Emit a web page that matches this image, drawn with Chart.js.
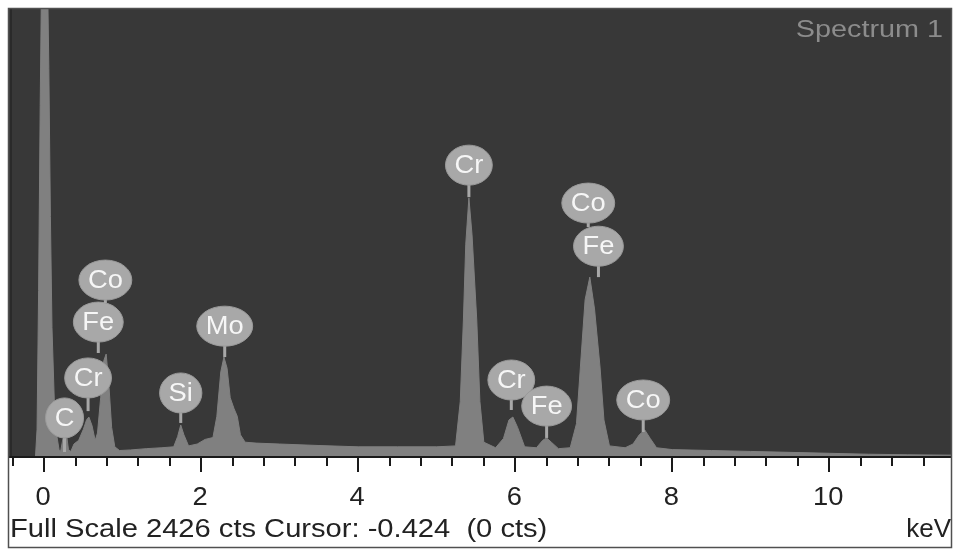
<!DOCTYPE html>
<html>
<head>
<meta charset="utf-8">
<script src="https://cdn.jsdelivr.net/npm/chart.js@4.4.1/dist/chart.umd.min.js"></script>
<style>
    html, body { margin: 0; padding: 0; background: #ffffff; }
    #wrap { width: 954px; height: 549px; position: relative; }
</style>
</head>
<body>
<div id="wrap"><canvas id="spectrumChart"></canvas></div>
<script>
// Espectro EDS (keV, contagens)
const energy = [
    -0.46, -0.11, -0.09, -0.07, -0.05, -0.03, 0.04, 0.06, 0.08, 0.10,
    0.13, 0.16, 0.19, 0.21, 0.24, 0.28, 0.31, 0.34, 0.38, 0.44,
    0.50, 0.54, 0.57, 0.61, 0.65, 0.68, 0.72, 0.76, 0.79, 0.82,
    0.86, 0.90, 0.96, 1.10, 1.30, 1.50, 1.65, 1.70, 1.74, 1.78,
    1.84, 1.95, 2.05, 2.15, 2.20, 2.25, 2.29, 2.33, 2.37, 2.42,
    2.46, 2.50, 2.56, 2.70, 3.00, 3.50, 4.00, 4.50, 5.00, 5.24,
    5.30, 5.34, 5.37, 5.41, 5.45, 5.51, 5.55, 5.60, 5.75, 5.85,
    5.92, 5.97, 6.03, 6.12, 6.27, 6.35, 6.40, 6.46, 6.55, 6.70,
    6.78, 6.83, 6.89, 6.95, 7.01, 7.08, 7.13, 7.20, 7.40, 7.50,
    7.58, 7.65, 7.72, 7.80, 8.00, 8.50, 9.00, 9.50, 10.0, 10.5,
    11.0, 11.55
];
const counts = [
    0, 0, 150, 900, 1900, 2700, 2700, 2100, 1300, 700,
    300, 120, 40, 30, 100, 140, 40, 30, 70, 90,
    150, 200, 216, 170, 90, 130, 320, 520, 556, 420,
    160, 55, 35, 38, 45, 50, 55, 110, 173, 120,
    60, 70, 95, 105, 220, 460, 540, 480, 320, 260,
    220, 120, 80, 75, 70, 62, 55, 55, 55, 60,
    300, 740, 1150, 1400, 1200, 740, 300, 80, 50, 100,
    200, 216, 160, 55, 50, 90, 103, 80, 45, 50,
    180, 486, 850, 972, 800, 486, 200, 60, 50, 70,
    120, 146, 100, 50, 40, 35, 30, 25, 20, 15,
    12, 10
];

// Rótulos dos elementos
const labelText   = ['C', 'Cr', 'Fe', 'Co', 'Si', 'Mo', 'Cr', 'Cr', 'Fe', 'Co', 'Fe', 'Co'];
const labelEnergy = [0.26, 0.56, 0.69, 0.78, 1.74, 2.30, 5.41, 5.95, 6.40, 6.93, 7.06, 7.63];
const labelCounts = [211, 427, 729, 956, 346, 707, 1577, 416, 275, 1372, 1139, 308];
const stemCounts  = [27, 248, 562, 832, 184, 540, 1404, 254, 103, 1242, 972, 135];

// Eixo
const tickLabels = ['0', '2', '4', '6', '8', '10'];
const majorTicks = [0, 2, 4, 6, 8, 10];
const minorStep = 0.2;
const xMin = -0.46;
const xMax = 11.55;
const fullScale = 2426;
const cursorKeV = -0.424;
const cursorCts = 0;

const points = energy.map((e, i) => ({ x: e, y: counts[i] }));

function stretchText(ctx, text, x, y, align, sx) {
    const w = ctx.measureText(text).width * sx;
    let left = x;
    if (align === 'right') left = x - w;
    if (align === 'center') left = x - w / 2;
    ctx.save();
    ctx.translate(left, y);
    ctx.scale(sx, 1);
    ctx.textAlign = 'left';
    ctx.fillText(text, 0, 0);
    ctx.restore();
}

const edsPlugin = {
    id: 'eds',
    beforeDraw(chart) {
        const { ctx, chartArea: a } = chart;
        ctx.save();
        ctx.fillStyle = '#ffffff';
        ctx.fillRect(0, 0, chart.width, chart.height);
        ctx.fillStyle = '#383838';
        ctx.fillRect(a.left, a.top, a.right - a.left, a.bottom - a.top);
        ctx.fillStyle = '#2a2a2a';
        ctx.fillRect(a.left + 2, a.top, 2, a.bottom - a.top);
        ctx.restore();
    },
    afterDraw(chart) {
        const { ctx, chartArea: a } = chart;
        const xs = chart.scales.x;
        const ys = chart.scales.y;
        ctx.save();

        // rótulos dos picos
        ctx.font = '26px "Liberation Sans", Arial, sans-serif';
        ctx.textBaseline = 'middle';
        labelText.forEach((t, i) => {
            const px = xs.getPixelForValue(labelEnergy[i]);
            const py = ys.getPixelForValue(labelCounts[i]);
            const sy = ys.getPixelForValue(stemCounts[i]);
            const tw = ctx.measureText(t).width * 1.05;
            const w = Math.max(38, tw + 18);
            const h = 40;
            ctx.fillStyle = '#a8a8a8';
            ctx.fillRect(px - 1.5, py, 3, sy - py);
            ctx.beginPath();
            ctx.ellipse(px, py, w / 2, h / 2, 0, 0, Math.PI * 2);
            ctx.fill();
            ctx.strokeStyle = '#9a9a9a';
            ctx.lineWidth = 1;
            ctx.stroke();
            ctx.fillStyle = '#f6f6f6';
            stretchText(ctx, t, px, py + 1, 'center', 1.05);
        });

        // "Spectrum 1"
        ctx.fillStyle = '#8c8c8c';
        ctx.font = '24px "Liberation Sans", Arial, sans-serif';
        ctx.textBaseline = 'alphabetic';
        stretchText(ctx, 'Spectrum 1', 943, 37, 'right', 1.2);

        // linha do eixo e marcas
        ctx.fillStyle = '#1a1a1a';
        ctx.fillRect(a.left, a.bottom - 1, a.right - a.left, 2);
        xs.ticks.forEach(tk => {
            const px = Math.round(xs.getPixelForValue(tk.value));
            const major = majorTicks.some(m => Math.abs(m - tk.value) < 1e-6);
            ctx.fillRect(px - 1, a.bottom, 2, major ? 15 : 9);
        });

        // rótulos do eixo
        ctx.font = '26px "Liberation Sans", Arial, sans-serif';
        ctx.fillStyle = '#222222';
        majorTicks.forEach((m, i) => {
            stretchText(ctx, tickLabels[i], xs.getPixelForValue(m) - 1, 505, 'center', 1.05);
        });

        // texto inferior
        const info = 'Full Scale ' + fullScale + ' cts Cursor: ' + cursorKeV.toFixed(3) + '  (' + cursorCts + ' cts)';
        stretchText(ctx, info, 10, 537, 'left', 1.12);
        stretchText(ctx, 'keV', 951, 537, 'right', 1.0);

        // moldura
        ctx.strokeStyle = '#505050';
        ctx.lineWidth = 1.5;
        ctx.strokeRect(a.left + 0.5, a.top + 0.5, a.right - a.left, 547 - a.top);
        ctx.restore();
    }
};

const ctx = document.getElementById('spectrumChart').getContext('2d');
new Chart(ctx, {
    type: 'line',
    data: {
        datasets: [{
            data: points,
            fill: 'origin',
            backgroundColor: '#808080',
            borderColor: '#808080',
            borderWidth: 1,
            pointRadius: 0,
            tension: 0
        }]
    },
    options: {
        responsive: true,
        maintainAspectRatio: false,
        animation: false,
        events: [],
        layout: { padding: { left: 8, top: 8, right: 3, bottom: 92 } },
        plugins: { legend: { display: false }, tooltip: { enabled: false } },
        scales: {
            x: {
                type: 'linear',
                min: xMin,
                max: xMax,
                display: false,
                afterBuildTicks: (scale) => {
                    const ticks = [];
                    for (let v = -0.4; v < xMax; v += minorStep) {
                        ticks.push({ value: Math.round(v * 10) / 10 });
                    }
                    scale.ticks = ticks;
                }
            },
            y: {
                min: 0,
                max: fullScale,
                display: false
            }
        }
    },
    plugins: [edsPlugin]
});
</script>
</body>
</html>
